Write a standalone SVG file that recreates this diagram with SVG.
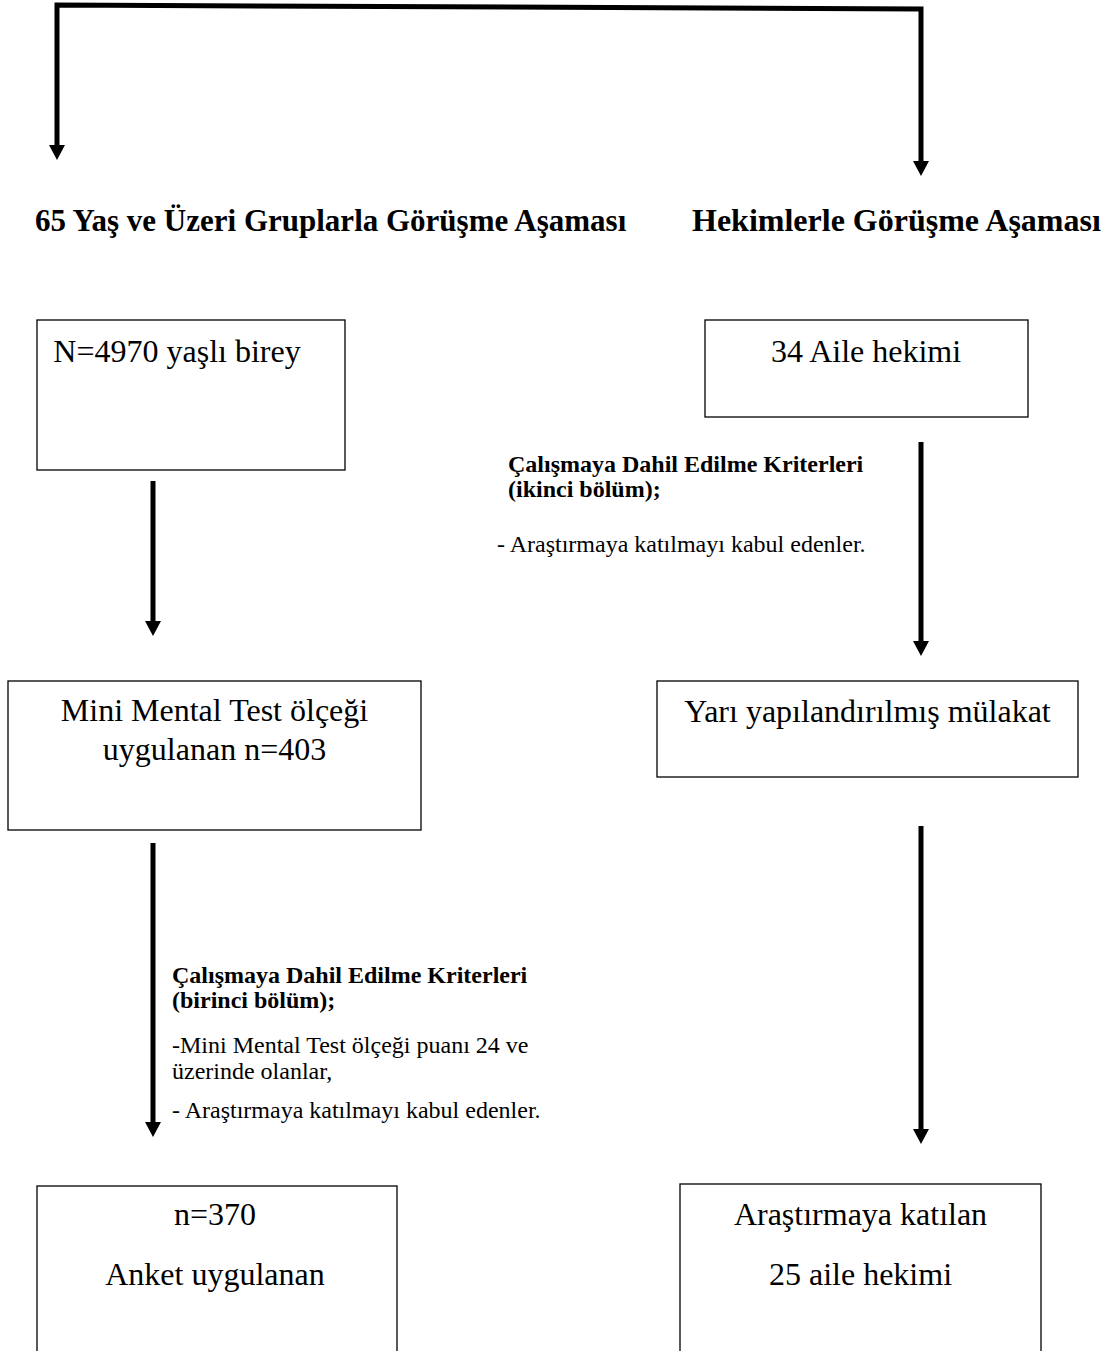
<svg xmlns="http://www.w3.org/2000/svg" width="1117" height="1351" viewBox="0 0 1117 1351">
<style>
.box{fill:#fff;stroke:#000;stroke-width:1.3}
.t{font-family:"Liberation Serif","Times New Roman",serif;font-size:32px;fill:#000;text-anchor:middle}
.h{font-family:"Liberation Serif","Times New Roman",serif;font-size:32px;font-weight:bold;fill:#000}
.cb{font-family:"Liberation Serif","Times New Roman",serif;font-size:24px;font-weight:bold;fill:#000}
.cr{font-family:"Liberation Serif","Times New Roman",serif;font-size:24px;fill:#000}
.conn{fill:none;stroke:#000;stroke-width:5;stroke-linejoin:miter;marker-end:url(#ah)}
.both{marker-start:url(#ah)}
</style>
<defs>
<marker id="ah" viewBox="0 0 15 16" refX="0" refY="8" markerWidth="15" markerHeight="16" markerUnits="userSpaceOnUse" orient="auto-start-reverse">
<path d="M0,0 L15,8 L0,16 z" fill="#000"/>
</marker>
</defs>
<rect width="1117" height="1351" fill="#fff"/>
<g id="connectors">
<path class="conn both" d="M57,145 L57,5 L921,9 L921,161"/>
<path class="conn" d="M153,481 L153,621"/>
<path class="conn" d="M153,843 L153,1122"/>
<path class="conn" d="M921,442 L921,641"/>
<path class="conn" d="M921,826 L921,1129"/>
</g>
<g id="heading-left"><text class="h" x="35" y="231" style="font-size:31px">65 Yaş ve Üzeri Gruplarla Görüşme Aşaması</text></g>
<g id="heading-right"><text class="h" x="692" y="231">Hekimlerle Görüşme Aşaması</text></g>
<g id="box-n4970">
<rect class="box" x="37" y="320" width="308" height="150"/>
<text class="t" x="177" y="362">N=4970 yaşlı birey</text>
</g>
<g id="box-34aile">
<rect class="box" x="705" y="320" width="323" height="97"/>
<text class="t" x="866" y="362">34 Aile hekimi</text>
</g>
<g id="criteria-2">
<text class="cb" x="508" y="472">Çalışmaya Dahil Edilme Kriterleri</text>
<text class="cb" x="508" y="497">(ikinci bölüm);</text>
<text class="cr" x="497" y="552">- Araştırmaya katılmayı kabul edenler.</text>
</g>
<g id="box-mmt">
<rect class="box" x="8" y="681" width="413" height="149"/>
<text class="t" x="214.5" y="721">Mini Mental Test ölçeği</text>
<text class="t" x="214.5" y="760">uygulanan n=403</text>
</g>
<g id="box-mulakat">
<rect class="box" x="657" y="681" width="421" height="96"/>
<text class="t" x="867.5" y="722">Yarı yapılandırılmış mülakat</text>
</g>
<g id="criteria-1">
<text class="cb" x="172" y="983">Çalışmaya Dahil Edilme Kriterleri</text>
<text class="cb" x="172" y="1008">(birinci bölüm);</text>
<text class="cr" x="172" y="1053">-Mini Mental Test ölçeği puanı 24 ve</text>
<text class="cr" x="172" y="1079">üzerinde olanlar,</text>
<text class="cr" x="172" y="1118">- Araştırmaya katılmayı kabul edenler.</text>
</g>
<g id="box-n370">
<rect class="box" x="37" y="1186" width="360" height="200"/>
<text class="t" x="215" y="1225">n=370</text>
<text class="t" x="215" y="1285">Anket uygulanan</text>
</g>
<g id="box-25aile">
<rect class="box" x="680" y="1184" width="361" height="200"/>
<text class="t" x="860.5" y="1225">Araştırmaya katılan</text>
<text class="t" x="860.5" y="1285">25 aile hekimi</text>
</g>
</svg>
